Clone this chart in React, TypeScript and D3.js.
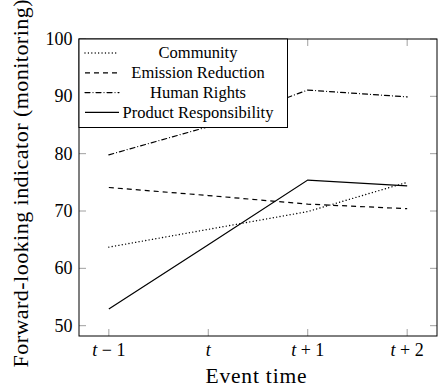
import * as d3 from 'd3'
import { useEffect, useRef } from 'react'

const times = [-1, 0, 1, 2]
const timeLabels = ['t|−1', 't|', 't|+1', 't|+2']
const community = [63.7, 66.8, 69.9, 75.0]
const emission = [74.1, 72.7, 71.2, 70.4]
const humanRights = [79.8, 84.7, 91.1, 89.9]
const product = [52.9, 64.1, 75.4, 74.4]
const yTicks = [50, 60, 70, 80, 90, 100]

const seriesNames = ['Community', 'Emission Reduction', 'Human Rights', 'Product Responsibility']
const seriesValues = [community, emission, humanRights, product]
const dashes = ['0.01,3.4', '5,4', '5,3,0.01,3', null]

const App = () => {
  const ref = useRef<SVGSVGElement>(null)

  useEffect(() => {
    const svg = d3.select(ref.current)
    svg.selectAll('*').remove()

    const left = 79,
      right = 437,
      top = 39,
      bottom = 336
    const font = '"Liberation Serif", "Times New Roman", serif'

    var x = d3.scaleLinear().domain([-1.3, 2.3]).range([left, right])
    var y = d3.scaleLinear().domain([48.2, 100]).range([bottom, top])

    // ticks, inside on all four sides
    const g = svg.append('g')
    times.forEach(function (t) {
      g.append('line')
        .attr('x1', x(t)).attr('x2', x(t))
        .attr('y1', bottom).attr('y2', bottom - 7)
        .attr('stroke', '#888').attr('stroke-width', 0.8)
      g.append('line')
        .attr('x1', x(t)).attr('x2', x(t))
        .attr('y1', top).attr('y2', top + 7)
        .attr('stroke', '#888').attr('stroke-width', 0.8)
    })
    yTicks.forEach(function (v) {
      g.append('line')
        .attr('x1', left).attr('x2', left + 7)
        .attr('y1', y(v)).attr('y2', y(v))
        .attr('stroke', '#888').attr('stroke-width', 0.8)
      g.append('line')
        .attr('x1', right).attr('x2', right - 7)
        .attr('y1', y(v)).attr('y2', y(v))
        .attr('stroke', '#888').attr('stroke-width', 0.8)
      g.append('text')
        .attr('x', 72.5)
        .attr('y', y(v))
        .attr('dy', '0.34em')
        .attr('text-anchor', 'end')
        .style('font-family', font)
        .style('font-size', '18px')
        .text(v)
    })

    timeLabels.forEach(function (lab, i) {
      var parts = lab.split('|')
      var txt = g.append('text')
        .attr('x', x(times[i]))
        .attr('y', 355.5)
        .attr('text-anchor', 'middle')
        .style('font-family', font)
        .style('font-size', '18px')
      txt.append('tspan').style('font-style', 'italic').text(parts[0])
      if (parts[1]) {
        txt.append('tspan').text(' ' + parts[1][0] + ' ' + parts[1].slice(1))
      }
    })

    // lines
    var line = d3.line<number>()
      .x(function (d, i) { return x(times[i]) })
      .y(function (d) { return y(d) })

    seriesValues.forEach(function (vals, i) {
      svg.append('path')
        .attr('d', line(vals))
        .attr('fill', 'none')
        .attr('stroke', '#000')
        .attr('stroke-width', i === 0 ? 1.4 : 1.2)
        .attr('stroke-linecap', i === 0 || i === 2 ? 'round' : 'butt')
        .attr('stroke-dasharray', dashes[i])
    })

    // frame
    svg.append('rect')
      .attr('x', left).attr('y', top)
      .attr('width', right - left).attr('height', bottom - top)
      .attr('fill', 'none').attr('stroke', '#000').attr('stroke-width', 1)

    // legend
    var lg = svg.append('g')
    lg.append('rect')
      .attr('x', left).attr('y', top)
      .attr('width', 287.5 - left).attr('height', 127.5 - top)
      .attr('fill', '#fff').attr('stroke', '#000').attr('stroke-width', 1)
    seriesNames.forEach(function (name, i) {
      var ry = 53 + i * 19.8
      lg.append('line')
        .attr('x1', 85).attr('x2', 119)
        .attr('y1', ry).attr('y2', ry)
        .attr('stroke', '#000')
        .attr('stroke-width', i === 0 ? 1.4 : 1.2)
        .attr('stroke-linecap', i === 0 || i === 2 ? 'round' : 'butt')
        .attr('stroke-dasharray', dashes[i])
      lg.append('text')
        .attr('x', 198)
        .attr('y', ry)
        .attr('dy', '0.32em')
        .attr('text-anchor', 'middle')
        .style('font-family', font)
        .style('font-size', '16.5px')
        .text(name)
    })

    // axis labels
    svg.append('text')
      .attr('x', (left + right) / 2 - 2)
      .attr('y', 383)
      .attr('text-anchor', 'middle')
      .attr('textLength', 101)
      .style('font-family', font)
      .style('font-size', '21.5px')
      .text('Event time')

    svg.append('text')
      .attr('transform', 'translate(28,' + ((bottom + top) / 2 - 4) + ') rotate(-90)')
      .attr('text-anchor', 'middle')
      .attr('textLength', 368)
      .style('font-family', font)
      .style('font-size', '22px')
      .text('Forward-looking indicator (monitoring)')
  }, [])

  return (
    <svg
      ref={ref}
      width={438}
      height={388}
      style={{ position: 'absolute', left: 0, top: 0, background: '#fff' }}
    />
  )
}

export default App
